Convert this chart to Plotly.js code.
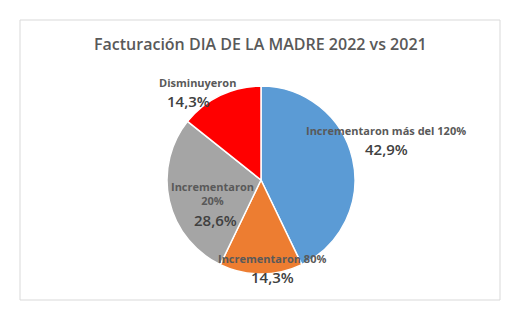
<!DOCTYPE html>
<html><head><meta charset="utf-8">
<script src="https://cdn.plot.ly/plotly-3.0.1.min.js"></script>
<style>html,body{margin:0;padding:0;background:#fff}</style>
</head><body>
<div id="chart" style="width:525px;height:328px"></div>
<script>
var categories = ["Incrementaron más del 120%", "Incrementaron 80%", "Incrementaron<br>20%", "Disminuyeron"];
var values = [3, 1, 2, 1];
var colors = ["#5B9BD5", "#ED7D31", "#A5A5A5", "#FF0000"];
var titleText = "Facturación DIA DE LA MADRE 2022 vs 2021";

var total = values.reduce(function(a,b){return a+b;},0);
function pct(v){ return (v/total*100).toFixed(1).replace('.', ',') + '%'; }

// label positions in pixels (name center, percent center)
var labelPos = [
  {nx:386, ny:130, px:386, py:149},
  {nx:272, ny:258, px:272, py:277},
  {nx:212, ny:193, px:215, py:220},
  {nx:197, ny:82,  px:188, py:101}
];
var W = 525, H = 328;
var annotations = [{
  text: titleText, xref:'paper', yref:'paper', x: 260/W, y: 1-44/H,
  showarrow:false, xanchor:'center', yanchor:'middle',
  font:{family:'Open Sans, sans-serif', size:16, weight:600, color:'#595959'}
}];
categories.forEach(function(c,i){
  var p = labelPos[i];
  annotations.push({text:c, xref:'paper', yref:'paper', x:p.nx/W, y:1-p.ny/H,
    showarrow:false, xanchor:'center', yanchor:'middle',
    font:{family:'Open Sans, sans-serif', size:11, weight:700, color:'#595959'}});
  annotations.push({text:pct(values[i]), xref:'paper', yref:'paper', x:p.px/W, y:1-p.py/H,
    showarrow:false, xanchor:'center', yanchor:'middle',
    font:{family:'Open Sans, sans-serif', size:15, weight:600, color:'#404040'}});
});

var trace = {
  type:'pie', values: values, labels: categories, sort:false, direction:'clockwise', rotation:0,
  marker:{colors: colors, line:{color:'#ffffff', width:1.5}},
  textinfo:'none', hoverinfo:'none', showlegend:false,
  domain:{x:[167/W, 355/W], y:[1-274/H, 1-86/H]}
};
var layout = {
  width:W, height:H, margin:{l:0,r:0,t:0,b:0}, paper_bgcolor:'#fff',
  showlegend:false, annotations: annotations,
  shapes:[{type:'rect', xref:'paper', yref:'paper', x0:20/W, x1:500/W, y0:1-300/H, y1:1-20/H,
    line:{color:'#D9D9D9', width:1}, fillcolor:'rgba(0,0,0,0)'}]
};
Plotly.newPlot('chart', [trace], layout, {displayModeBar:false, staticPlot:true});
</script>
</body></html>
